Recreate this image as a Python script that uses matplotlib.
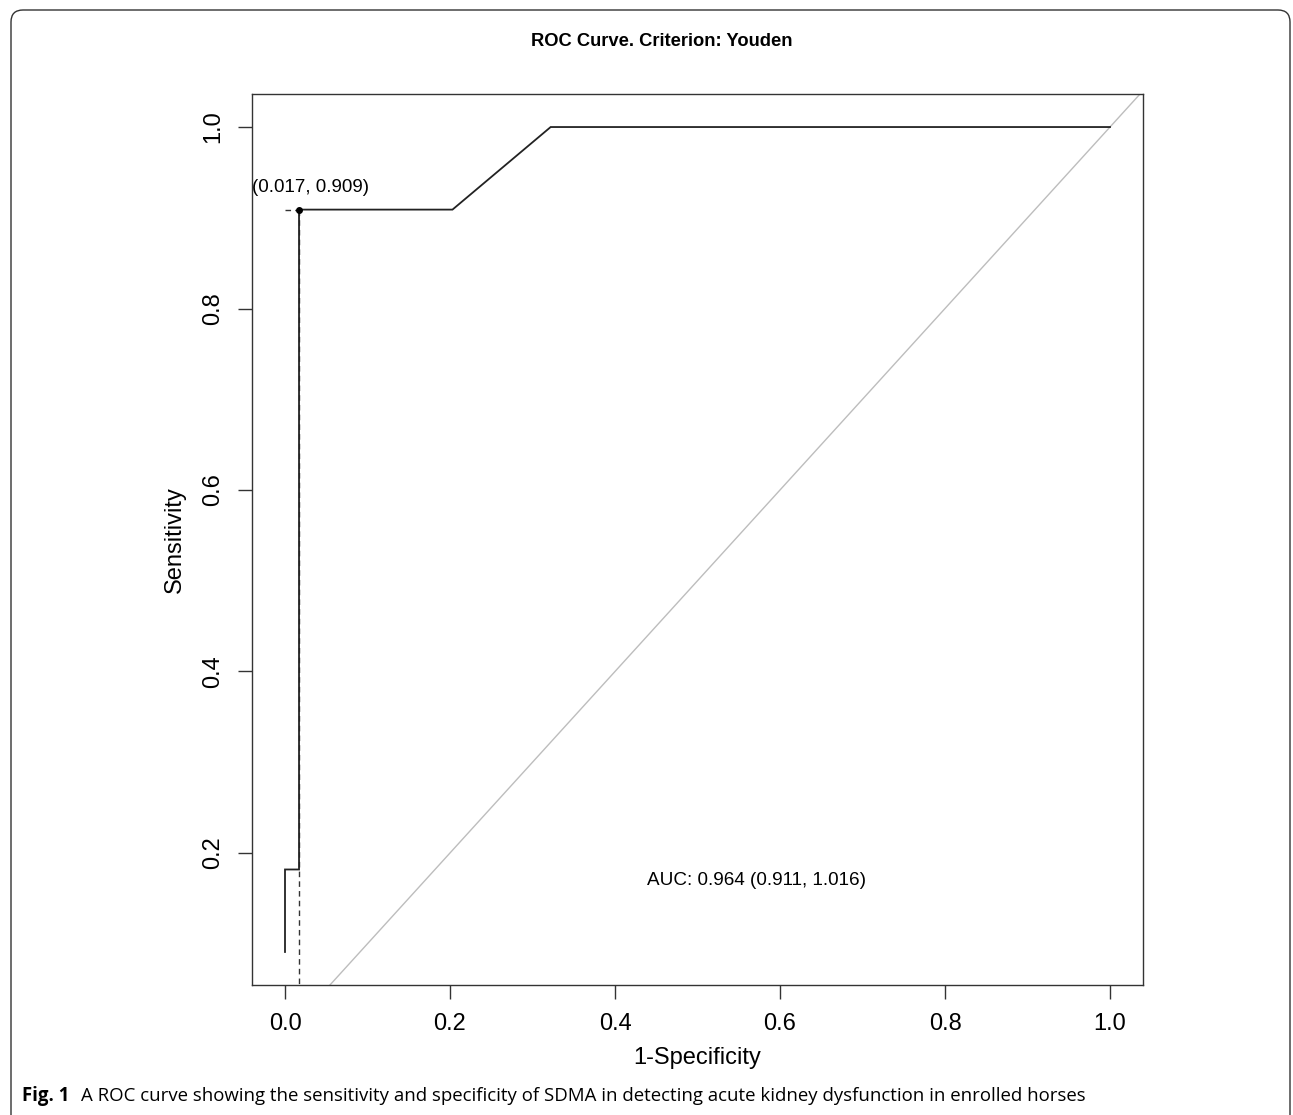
import matplotlib
matplotlib.use("Agg")
import matplotlib.pyplot as plt
from matplotlib.patches import FancyBboxPatch
from matplotlib.transforms import IdentityTransform

# Data
fpr = [0.0, 0.0, 0.017, 0.017, 0.203, 0.322, 1.0]
tpr = [0.0909, 0.1818, 0.1818, 0.909, 0.909, 1.0, 1.0]
best_fpr = 0.017
best_tpr = 0.909
x_ticks = [0.0, 0.2, 0.4, 0.6, 0.8, 1.0]
y_ticks = [0.2, 0.4, 0.6, 0.8, 1.0]
auc_text = "AUC: 0.964 (0.911, 1.016)"
title = "ROC Curve. Criterion: Youden"
caption_bold = "Fig. 1"
caption = "A ROC curve showing the sensitivity and specificity of SDMA in detecting acute kidney dysfunction in enrolled horses"

W, H = 1293, 1115
fig = plt.figure(figsize=(W / 100, H / 100), dpi=100)
fig.patch.set_facecolor("white")

ax = fig.add_axes([252 / W, (H - 985) / H, 891 / W, 891 / H])
fam = ["Liberation Sans", "DejaVu Sans"]

ax.set_xlim(-0.04, 1.04)
ax.set_ylim(0.0545, 1.0364)

# diagonal reference
ax.plot([0, 1.1], [0, 1.1], color="#bdbdbd", lw=1.0, zorder=1)
# ROC curve
ax.plot(fpr, tpr, color="#222222", lw=1.3, zorder=3, solid_joinstyle="miter")
# threshold point and dashed guides
ax.plot([best_fpr, best_fpr], [best_tpr, 0.0545], color="#333333", lw=1.0,
        ls=(0, (4, 3)), zorder=2)
ax.plot([0.0, best_fpr], [best_tpr, best_tpr], color="#333333", lw=1.0,
        ls=(0, (4, 3)), zorder=2)
ax.plot([best_fpr], [best_tpr], "o", color="black", ms=4, zorder=4)
ax.text(0.0315, 0.933, f"({best_fpr:.3f}, {best_tpr:.3f})", ha="center", va="center",
        fontsize=13.5, family=fam)
ax.text(0.572, 0.170, auc_text, ha="center", va="center", fontsize=13.6, family=fam)

ax.set_xticks(x_ticks)
ax.set_xticklabels([f"{v:.1f}" for v in x_ticks], family=fam, fontsize=17)
ax.set_yticks(y_ticks)
ax.set_yticklabels([f"{v:.1f}" for v in y_ticks], family=fam, fontsize=17,
                   rotation=90, va="center")
ax.tick_params(direction="out", length=10, width=1, color="#333333", pad=10)
for s in ax.spines.values():
    s.set_color("#333333")
    s.set_linewidth(1.0)

ax.set_xlabel("1-Specificity", family=fam, fontsize=17, labelpad=9)
ax.set_ylabel("Sensitivity", family=fam, fontsize=17, labelpad=12)

fig.text(662 / W, 1 - 41 / H, title, ha="center", va="center", fontsize=13.2,
         fontweight="bold", family=fam)

# caption
t1 = fig.text(22 / W, 1 - 1096 / H, caption_bold, ha="left", va="center",
              fontsize=13.4, fontweight="bold", family=["Open Sans", "DejaVu Sans"])
fig.canvas.draw()
bb = t1.get_window_extent()
fig.text((bb.x1 + 12) / W, 1 - 1096 / H, caption, ha="left", va="center",
         fontsize=13.4, family=["Open Sans", "DejaVu Sans"])

# border
fig.patches.append(FancyBboxPatch((11, -30), 1279, H - 10 + 30,
                                  boxstyle="round,pad=0,rounding_size=12",
                                  transform=IdentityTransform(), fill=False,
                                  ec="#333333", lw=1.0, figure=fig))

fig.savefig("out.png", dpi=100)
